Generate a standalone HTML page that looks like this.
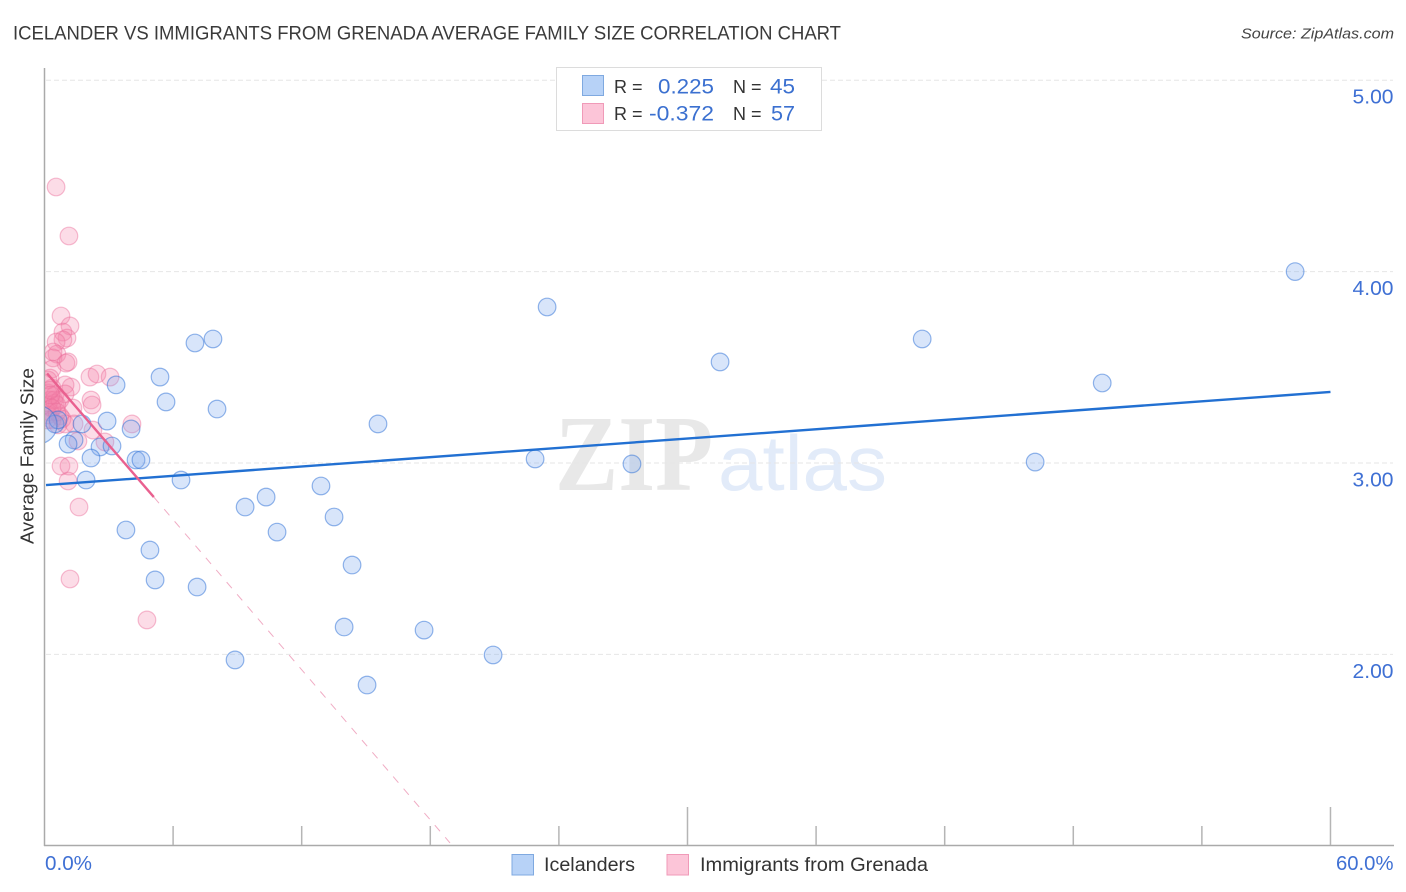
<!DOCTYPE html>
<html lang="en">
<head>
<meta charset="utf-8">
<title>Icelander vs Immigrants from Grenada Average Family Size Correlation Chart</title>
<style>
html,body{margin:0;padding:0;background:#fff;}
body{width:1406px;height:892px;overflow:hidden;}
svg{display:block;font-family:"Liberation Sans",sans-serif;}
</style>
</head>
<body>
<svg id="chart" width="1406" height="892" viewBox="0 0 1406 892" xmlns="http://www.w3.org/2000/svg">
  <defs>
    <clipPath id="plot-clip"><rect x="45" y="60" width="1350" height="785"></rect></clipPath>
  </defs>
  <rect x="0" y="0" width="1406" height="892" fill="#fff"></rect>
  <text x="13" y="39.5" font-size="19.5" fill="#3a3a3a" textLength="828" lengthAdjust="spacingAndGlyphs">ICELANDER VS IMMIGRANTS FROM GRENADA AVERAGE FAMILY SIZE CORRELATION CHART</text>
  <text x="1241" y="38.5" font-size="15" font-style="italic" fill="#444" textLength="153" lengthAdjust="spacingAndGlyphs">Source: ZipAtlas.com</text>

  <g>
    <text x="555" y="490" font-family="'Liberation Serif',serif" font-weight="bold" font-size="108" fill="#e8e8e8" textLength="158" lengthAdjust="spacingAndGlyphs">ZIP</text>
    <text x="718" y="490" font-size="78" fill="#e2ebf9" textLength="169" lengthAdjust="spacingAndGlyphs">atlas</text>
  </g>

  <g id="grid"></g>
  <g id="axes"></g>
  <g id="pink-points" clip-path="url(#plot-clip)"></g>
  <g id="blue-points" clip-path="url(#plot-clip)"></g>
  <g id="trends" clip-path="url(#plot-clip)"></g>

  <text transform="translate(33.5,544) rotate(-90)" font-size="18" fill="#333" textLength="176" lengthAdjust="spacingAndGlyphs">Average Family Size</text>

  <g>
    <rect x="556.5" y="67.5" width="265" height="63" fill="#fff" stroke="#dcdcdc" stroke-width="1"></rect>
    <rect x="582.5" y="75.5" width="21" height="20" fill="#b7d2f7" stroke="#7fa9e0" stroke-width="1"></rect>
    <rect x="582.5" y="103.5" width="21" height="20" fill="#fcc5d8" stroke="#f09ab8" stroke-width="1"></rect>
    <text x="614" y="93" font-size="18" fill="#333">R =</text>
    <text x="658" y="93.5" font-size="21" fill="#3b70d0" textLength="56" lengthAdjust="spacingAndGlyphs">0.225</text>
    <text x="733" y="93" font-size="18" fill="#333">N =</text>
    <text x="770" y="93.5" font-size="21" fill="#3b70d0" textLength="25" lengthAdjust="spacingAndGlyphs">45</text>
    <text x="614" y="120" font-size="18" fill="#333">R =</text>
    <text x="649" y="120.5" font-size="21" fill="#3b70d0" textLength="65" lengthAdjust="spacingAndGlyphs">-0.372</text>
    <text x="733" y="120" font-size="18" fill="#333">N =</text>
    <text x="771" y="120.5" font-size="21" fill="#3b70d0" textLength="24" lengthAdjust="spacingAndGlyphs">57</text>
  </g>

  <g>
    <g>
      <rect x="512" y="854.5" width="21.5" height="20.5" fill="#b7d2f7" stroke="#7fa9e0" stroke-width="1"></rect>
      <text x="544" y="871" font-size="19" fill="#333" textLength="91" lengthAdjust="spacingAndGlyphs">Icelanders</text>
    </g>
    <g>
      <rect x="667" y="854.5" width="21.5" height="20.5" fill="#fcc5d8" stroke="#f09ab8" stroke-width="1"></rect>
      <text x="700" y="871" font-size="19" fill="#333" textLength="228" lengthAdjust="spacingAndGlyphs">Immigrants from Grenada</text>
    </g>
  </g>
</svg>
<script>
const yTicks = [5, 4, 3, 2];
const yTickLabels = ["5.00", "4.00", "3.00", "2.00"];
const xTicks = [6, 12, 18, 24, 30, 36, 42, 48, 54, 60];
const xMajorTicks = [30, 60];
const xEdgeLabels = ["0.0%", "60.0%"];

const blueX = [58.35,23.45,40.95,7.86,7.02,31.52,49.35,5.39,3.34,5.67,8.05,15.56,2.92,4.04,1.75,0.49,1.38,1.10,2.59,3.15,2.17,4.27,4.50,22.89,27.41,46.22,6.37,1.94,12.90,10.34,9.36,13.51,3.80,10.85,4.92,14.35,5.16,7.12,13.98,17.71,20.93,8.89,15.05,0.63,-0.30];
const blueY = [4.00,3.815,3.648,3.648,3.627,3.528,3.418,3.449,3.408,3.319,3.282,3.204,3.219,3.178,3.204,3.204,3.12,3.099,3.084,3.089,3.026,3.016,3.016,3.021,2.995,3.005,2.911,2.911,2.880,2.822,2.770,2.718,2.650,2.639,2.545,2.467,2.389,2.352,2.143,2.127,1.997,1.971,1.840,3.225,3.20];

const pinkX = [0.54,1.14,0.77,1.19,0.86,1.05,0.86,0.54,0.58,0.40,1.10,1.00,0.35,2.12,2.45,3.06,1.24,0.96,0.35,0.16,0.49,0.96,2.17,2.22,1.33,0.26,0.44,0.16,0.49,0.58,0.26,0.72,0.82,0.16,0.35,0.63,0.96,1.38,2.26,4.08,2.82,1.56,0.77,1.14,1.10,1.61,1.19,4.78,0.16,0.26,0.40,0.72,0.30,0.35,0.12,0.58,0.26];
const pinkY = [4.442,4.186,3.768,3.716,3.684,3.653,3.643,3.632,3.569,3.549,3.528,3.522,3.491,3.449,3.465,3.449,3.397,3.408,3.392,3.366,3.355,3.361,3.329,3.303,3.287,3.329,3.329,3.303,3.313,3.303,3.266,3.246,3.230,3.251,3.225,3.199,3.204,3.204,3.172,3.204,3.110,3.115,2.984,2.984,2.906,2.770,2.394,2.180,3.434,3.444,3.580,3.329,3.355,3.287,3.225,3.266,3.381];

const blueTrendX = [0.07, 60];
const blueTrendY = [2.885, 3.371];
const pinkTrendSolidX = [0.12, 5.1];
const pinkTrendSolidY = [3.468, 2.822];
const pinkTrendDashX = [5.1, 18.92];
const pinkTrendDashY = [2.822, 1.015];

const SVG_NS = "http://www.w3.org/2000/svg";
function xScale(v) { return 44.5 + v * 21.433; }
function yScale(v) { return 463 - (v - 3) * 191.4; }
function make(tag, parent, attrs) {
  const el = document.createElementNS(SVG_NS, tag);
  for (const k in attrs) el.setAttribute(k, attrs[k]);
  parent.appendChild(el);
  return el;
}

const grid = document.getElementById("grid");
const axes = document.getElementById("axes");

yTicks.forEach(function (t, i) {
  const line = make("line", grid, {x1: 46, x2: 1393, y1: yScale(t), y2: yScale(t), stroke: "#e6e6e6", "stroke-width": 1, "stroke-dasharray": "5 3"});
  
  
  const label = make("text", axes, {x: 1352.5, y: yScale(t) + 23.5, "font-size": 20, fill: "#3f70d4", textLength: 41, lengthAdjust: "spacingAndGlyphs"});
  label.textContent = yTickLabels[i];
  
  
});

const yAxis = make("line", axes, {x1: 44.5, x2: 44.5, y1: 68, y2: 846, stroke: "#aaa", "stroke-width": 1.5});


const xAxis = make("line", axes, {x1: 44, x2: 1394, y1: 845.5, y2: 845.5, stroke: "#aaa", "stroke-width": 1.5});



xTicks.forEach(function (t) {
  const top = xMajorTicks.indexOf(t) >= 0 ? 807 : 826;
  const tick = make("line", axes, {x1: xScale(t), x2: xScale(t), y1: top, y2: 845, stroke: "#b5b5b5", "stroke-width": 1.5});
  
  
});

const xLabelLeft = make("text", axes, {x: 45, y: 870, "font-size": 20, fill: "#3f70d4", textLength: 47, lengthAdjust: "spacingAndGlyphs"});
xLabelLeft.textContent = xEdgeLabels[0];


const xLabelRight = make("text", axes, {x: 1336, y: 870, "font-size": 20, fill: "#3f70d4", textLength: 57.5, lengthAdjust: "spacingAndGlyphs"});
xLabelRight.textContent = xEdgeLabels[1];



const pinkLayer = document.getElementById("pink-points");
pinkX.forEach(function (v, i) {
  const c = make("circle", pinkLayer, {cx: xScale(v), cy: yScale(pinkY[i]), r: 8.8, fill: "rgba(246,130,170,0.28)", stroke: "rgba(236,110,155,0.45)", "stroke-width": 1.2});
  
  
});

const blueLayer = document.getElementById("blue-points");
blueX.forEach(function (v, i) {
  const radius = i === blueX.length - 1 ? 19 : 8.8;
  const c = make("circle", blueLayer, {cx: xScale(v), cy: yScale(blueY[i]), r: radius, fill: "rgba(125,170,240,0.3)", stroke: "rgba(50,115,215,0.52)", "stroke-width": 1.2});
  
  
});

const trends = document.getElementById("trends");
const blueTrend = make("line", trends, {x1: xScale(blueTrendX[0]), x2: xScale(blueTrendX[1]), y1: yScale(blueTrendY[0]), y2: yScale(blueTrendY[1]), stroke: "#2270d2", "stroke-width": 2.4});


const pinkDash = make("line", trends, {x1: xScale(pinkTrendDashX[0]), x2: xScale(pinkTrendDashX[1]), y1: yScale(pinkTrendDashY[0]), y2: yScale(pinkTrendDashY[1]), stroke: "#f0acc4", "stroke-width": 1, "stroke-dasharray": "8 8"});


const pinkSolid = make("line", trends, {x1: xScale(pinkTrendSolidX[0]), x2: xScale(pinkTrendSolidX[1]), y1: yScale(pinkTrendSolidY[0]), y2: yScale(pinkTrendSolidY[1]), stroke: "#e9608f", "stroke-width": 2.4});


</script>
</body>
</html>
